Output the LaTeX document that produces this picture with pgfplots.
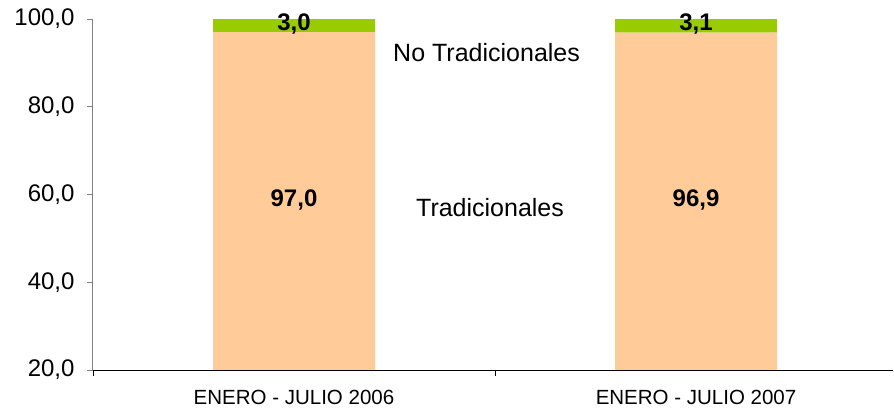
\documentclass[border=0pt]{standalone}
\usepackage{fontspec}
\setmainfont{Liberation Sans}
\usepackage{pgfplots}
\pgfplotsset{compat=1.18}
\definecolor{trad}{RGB}{255,204,153}
\definecolor{notrad}{RGB}{153,204,0}
\definecolor{axgray}{RGB}{128,128,128}
\begin{document}
\begin{tikzpicture}
\begin{axis}[
  scale only axis, width=800pt, height=351pt,
  xmin=-0.5, xmax=1.49, ymin=20, ymax=100,
  ybar stacked, bar width=162pt,
  axis lines*=left,
  axis on top,
  x axis line style={black, line width=1pt},
  y axis line style={axgray, line width=1pt},
  tick align=outside, major tick length=6pt,
  ytick={20,40,60,80,100},
  y tick style={axgray, line width=1pt},
  yticklabel style={font=\fontsize{24}{28}\selectfont, xshift=-9pt,
    /pgf/number format/.cd, fixed, fixed zerofill, precision=1, use comma, assume math mode=true},
  xtick={-0.5,0.5},
  xticklabels={,},
  x tick style={black, line width=0.8pt},
  extra x ticks={0,1},
  extra x tick labels={ENERO - JULIO 2006, ENERO - JULIO 2007},
  extra x tick style={major tick length=0pt,
    xticklabel style={font=\fontsize{20.5}{24}\selectfont, yshift=-17pt}},
]
\addplot[fill=trad, draw=none] coordinates {(0,97.0) (1,96.9)};
\addplot[fill=notrad, draw=none] coordinates {(0,3.0) (1,3.1)};
\coordinate (v1) at (axis cs:0,57.25);
\coordinate (v2) at (axis cs:1,57.25);
\coordinate (v3) at (axis cs:0,97.3);
\coordinate (v4) at (axis cs:1,97.3);
\coordinate (l1) at (axis cs:0.479,90.27);
\coordinate (l2) at (axis cs:0.4876,54.97);
\coordinate (BL) at (rel axis cs:0,0);
\end{axis}
\node[anchor=base, font=\bfseries\fontsize{24}{28}\selectfont] at (v1) {97,0};
\node[anchor=base, font=\bfseries\fontsize{24}{28}\selectfont] at (v2) {96,9};
\node[anchor=base, font=\bfseries\fontsize{24}{28}\selectfont] at (v3) {3,0};
\node[anchor=base, font=\bfseries\fontsize{24}{28}\selectfont] at (v4) {3,1};
\node[anchor=base, font=\fontsize{25}{30}\selectfont] at (l1) {No Tradicionales};
\node[anchor=base, font=\fontsize{25}{30}\selectfont] at (l2) {Tradicionales};
\pgfresetboundingbox
\path (BL) ++(-93pt,-40pt) rectangle ++(894pt,410pt);
\end{tikzpicture}
\end{document}
